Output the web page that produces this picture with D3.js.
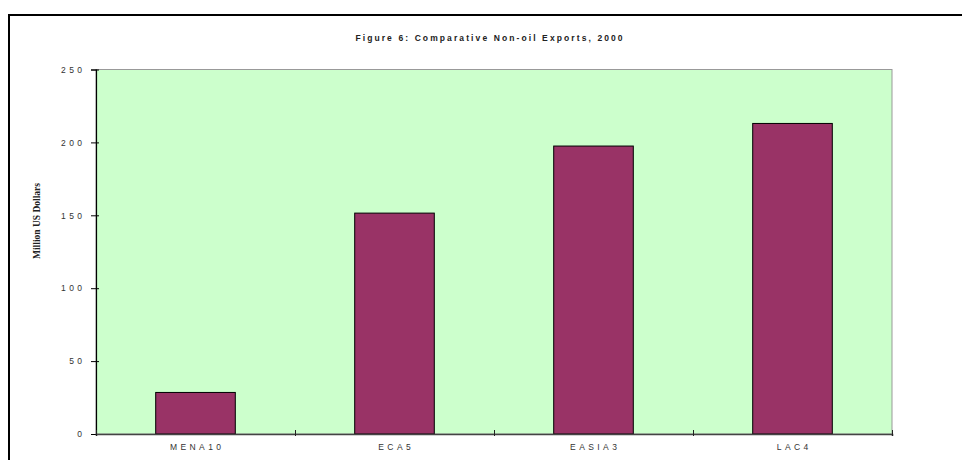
<!DOCTYPE html>
<html>
<head>
<meta charset="utf-8">
<script src="https://cdn.jsdelivr.net/npm/d3@7"></script>
<style>
  html, body { margin: 0; padding: 0; background: #fff; }
  svg { display: block; }
</style>
</head>
<body>
<svg id="chart" width="962" height="460"></svg>
<script>
// Non-oil exports in 2000 by regional group (million US dollars)
const categories = ["MENA10", "ECA5", "EASIA3", "LAC4"];
const exportsValues = [28.5, 151.5, 197.5, 213];
const yTicks = [0, 50, 100, 150, 200, 250];
const titleText = "Figure 6:  Comparative Non-oil Exports, 2000";
const yLabel = "Million US Dollars";

const sans = "Arial, 'Liberation Sans', sans-serif";
const serif = "'Liberation Serif', 'Times New Roman', serif";

const svg = d3.select("#chart");
const margin = { left: 96, right: 70, top: 69.5, bottom: 26 };
const W = 962, H = 460;
const innerW = W - margin.left - margin.right;
const innerH = H - margin.top - margin.bottom;

// outer frame
svg.append("rect")
  .attr("x", 9).attr("y", 15)
  .attr("width", 1000).attr("height", 600)
  .attr("fill", "none").attr("stroke", "#000").attr("stroke-width", 2);

// title
const tSpace = 2.1;
svg.append("text")
  .attr("x", 489 + tSpace / 2).attr("y", 41)
  .attr("text-anchor", "middle")
  .style("font-family", sans)
  .attr("font-size", 8.5).attr("font-weight", "bold")
  .attr("letter-spacing", tSpace + "px")
  .attr("fill", "#222")
  .text(titleText);

const g = svg.append("g").attr("transform", `translate(${margin.left},${margin.top})`);

const x = d3.scaleBand().domain(categories).range([0, innerW]).paddingInner(0.6).paddingOuter(0.3);
const y = d3.scaleLinear().domain([0, 250]).range([innerH, 0]);

// plot area
g.append("rect")
  .attr("x", 0).attr("y", 0).attr("width", innerW).attr("height", innerH)
  .attr("fill", "#ccffcc").attr("stroke", "#999").attr("stroke-width", 1);

// bars
g.selectAll("rect.bar")
  .data(categories.map((c, i) => ({ c, v: exportsValues[i] })))
  .join("rect")
  .attr("class", "bar")
  .attr("x", d => x(d.c))
  .attr("y", d => y(d.v))
  .attr("width", x.bandwidth())
  .attr("height", d => y(0) - y(d.v))
  .attr("fill", "#993366")
  .attr("stroke", "#000").attr("stroke-width", 1);

// y axis
const lSpace = 3.4;
const yAxis = g.append("g")
  .call(d3.axisLeft(y).tickValues(yTicks).tickSize(5).tickPadding(8).tickFormat(d3.format("d")));
yAxis.select(".domain").attr("stroke", "#000").attr("stroke-width", 1.2);
yAxis.selectAll(".tick line").attr("stroke", "#000").attr("x2", -5).attr("x1", 3);
yAxis.selectAll(".tick text")
  .style("font-family", sans)
  .attr("font-size", 8.5).attr("letter-spacing", lSpace + "px").attr("fill", "#333")
  .attr("dx", lSpace - 1);

// x axis: ticks on category boundaries
const xBound = d3.scaleLinear().domain([0, categories.length]).range([0, innerW]);
const xAxis = g.append("g").attr("transform", `translate(0,${innerH})`)
  .call(d3.axisBottom(xBound).tickValues(d3.range(categories.length + 1)).tickSize(2).tickFormat(""));
xAxis.select(".domain").attr("stroke", "#444").attr("stroke-width", 1.6);
xAxis.selectAll(".tick line").attr("stroke", "#222").attr("y1", -4).attr("y2", 2);

g.append("g").selectAll("text")
  .data(categories)
  .join("text")
  .attr("x", d => x(d) + x.bandwidth() / 2 + lSpace / 2)
  .attr("y", innerH + 16)
  .attr("text-anchor", "middle")
  .style("font-family", sans)
  .attr("font-size", 8.5).attr("letter-spacing", lSpace + "px").attr("fill", "#333")
  .text(d => d);

// y axis title
svg.append("text")
  .attr("transform", "translate(40,221) rotate(-90)")
  .attr("text-anchor", "middle")
  .style("font-family", serif)
  .attr("font-size", 9.5).attr("font-weight", "bold")
  .attr("fill", "#222")
  .text(yLabel);
</script>
</body>
</html>
